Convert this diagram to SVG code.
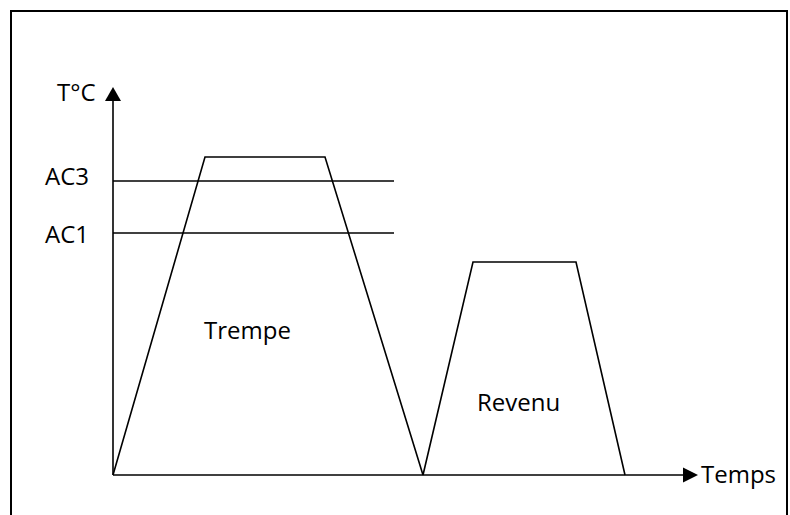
<svg xmlns="http://www.w3.org/2000/svg" width="790" height="515" viewBox="0 0 790 515">
  <style>
    .ln { fill: none; stroke: #000; stroke-width: 1.6; stroke-linejoin: miter; }
    .frame { fill: none; stroke: #000; stroke-width: 2; }
    .lbl { font-family: "Open Sans", "Noto Sans", sans-serif; font-size: 24px; fill: #000; }
  </style>
  <defs>
    <marker id="arr" viewBox="0 0 10 10" refX="10" refY="5" markerWidth="10" markerHeight="10" markerUnits="userSpaceOnUse" orient="auto">
      <path d="M0,0 L10,5 L0,10 Z" fill="#000"/>
    </marker>
  </defs>
  <rect width="790" height="515" fill="#fff"/>
  <path class="frame" d="M11,530 L11,11 L787,11 L787,530"/>

  <g id="connectors">
    <g id="y-axis">
      <line class="ln" x1="113" y1="475" x2="113" y2="100"/>
      <path d="M105,101 L113,87 L121,101 Z" fill="#000"/>
    </g>
    <g id="x-axis">
      <line class="ln" x1="113" y1="475" x2="684" y2="475"/>
      <path d="M683,467.5 L698,475 L683,482.5 Z" fill="#000"/>
    </g>
    <line id="ac3-line" class="ln" x1="113" y1="181" x2="394" y2="181"/>
    <line id="ac1-line" class="ln" x1="113" y1="233" x2="394" y2="233"/>
  </g>

  <g id="trempe">
    <polyline class="ln" points="113,475 205,157 325,157 423,475"/>
    <text class="lbl" x="204" y="339">Trempe</text>
  </g>
  <g id="revenu">
    <polyline class="ln" points="423,475 473,262 576,262 625,475"/>
    <text class="lbl" x="477" y="411">Revenu</text>
  </g>

  <g id="labels">
    <text class="lbl" x="57" y="101">T°C</text>
    <text class="lbl" x="45" y="185">AC3</text>
    <text class="lbl" x="45" y="243">AC1</text>
    <text class="lbl" x="701" y="483">Temps</text>
  </g>
</svg>
